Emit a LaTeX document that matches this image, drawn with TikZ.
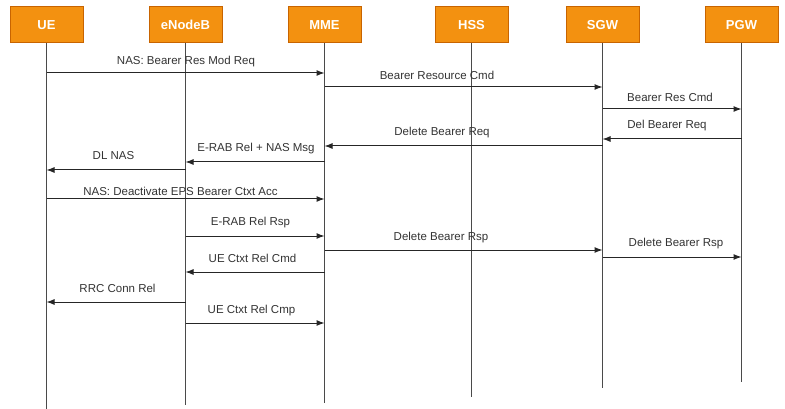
\documentclass[tikz,border=0pt]{standalone}
\usepackage{fontspec}
\setmainfont{Liberation Sans}
\usetikzlibrary{arrows.meta}
\definecolor{boxfill}{HTML}{F39110}
\definecolor{boxline}{HTML}{C86400}
\definecolor{linegray}{HTML}{4A4A4A}
\definecolor{txtgray}{HTML}{333333}
\tikzset{
  actor/.style={draw=boxline, line width=1pt, fill=boxfill, minimum width=73pt, minimum height=36pt,
    inner sep=0pt, text=white, font=\fontsize{13}{15}\selectfont\bfseries},
  life/.style={draw=linegray, line width=1pt},
  msg/.style={draw=black!85, line width=1pt, -{Latex[length=8pt,width=6pt]}},
  lbl/.style={text=txtgray, inner sep=0pt, font=\fontsize{11.5}{13}\selectfont}
}
\begin{document}
\begin{tikzpicture}[x=1pt,y=-1pt]
\useasboundingbox[fill=white] (0,0) rectangle (785,409);
% actors
\node[actor] (ue)  at (46.5,25) {UE};
\node[actor] (enb) at (185.5,25) {eNodeB};
\node[actor] (mme) at (324.5,25) {MME};
\node[actor] (hss) at (471.5,25) {HSS};
\node[actor] (sgw) at (602.5,25) {SGW};
\node[actor] (pgw) at (741.5,25) {PGW};
% lifeline ends
\coordinate (ueE)  at (46.5,409);
\coordinate (enbE) at (185.5,405);
\coordinate (mmeE) at (324.5,403);
\coordinate (hssE) at (471.5,397);
\coordinate (sgwE) at (602.5,388);
\coordinate (pgwE) at (741.5,382);
\draw[life] (ue) -- (ueE);
\draw[life] (enb) -- (enbE);
\draw[life] (mme) -- (mmeE);
\draw[life] (hss) -- (hssE);
\draw[life] (sgw) -- (sgwE);
\draw[life] (pgw) -- (pgwE);
% messages
\draw[msg] (ue |- 0,73) -- (mme |- 0,73);
\node[lbl] (l1) at (186,61.5) {NAS: Bearer Res Mod Req};
\draw[msg] (mme |- 0,87) -- (sgw |- 0,87);
\node[lbl] (l2) at (437,75) {Bearer Resource Cmd};
\draw[msg] (sgw |- 0,109) -- (pgw |- 0,109);
\node[lbl] (l3) at (670,97) {Bearer Res Cmd};
\draw[msg] (pgw |- 0,139) -- (sgw |- 0,139);
\node[lbl] (l4) at (667,126) {Del Bearer Req};
\draw[msg] (sgw |- 0,146) -- (mme |- 0,146);
\node[lbl] (l5) at (442,133) {Delete Bearer Req};
\draw[msg] (mme |- 0,162) -- (enb |- 0,162);
\node[lbl] (l6) at (256,148.5) {E-RAB Rel + NAS Msg};
\draw[msg] (enb |- 0,170) -- (ue |- 0,170);
\node[lbl] (l7) at (113.5,156) {DL NAS};
\draw[msg] (ue |- 0,199) -- (mme |- 0,199);
\node[lbl] (l8) at (180.5,191) {NAS: Deactivate EPS Bearer Ctxt Acc};
\draw[msg] (enb |- 0,236) -- (mme |- 0,236);
\node[lbl] (l9) at (250.5,222.5) {E-RAB Rel Rsp};
\draw[msg] (mme |- 0,250) -- (sgw |- 0,250);
\node[lbl] (l10) at (441,237.5) {Delete Bearer Rsp};
\draw[msg] (sgw |- 0,257) -- (pgw |- 0,257);
\node[lbl] (l11) at (676,244) {Delete Bearer Rsp};
\draw[msg] (mme |- 0,272) -- (enb |- 0,272);
\node[lbl] (l12) at (252.5,258) {UE Ctxt Rel Cmd};
\draw[msg] (enb |- 0,302) -- (ue |- 0,302);
\node[lbl] (l13) at (117.5,288) {RRC Conn Rel};
\draw[msg] (enb |- 0,323) -- (mme |- 0,323);
\node[lbl] (l14) at (251.5,310.5) {UE Ctxt Rel Cmp};
\end{tikzpicture}
\end{document}
